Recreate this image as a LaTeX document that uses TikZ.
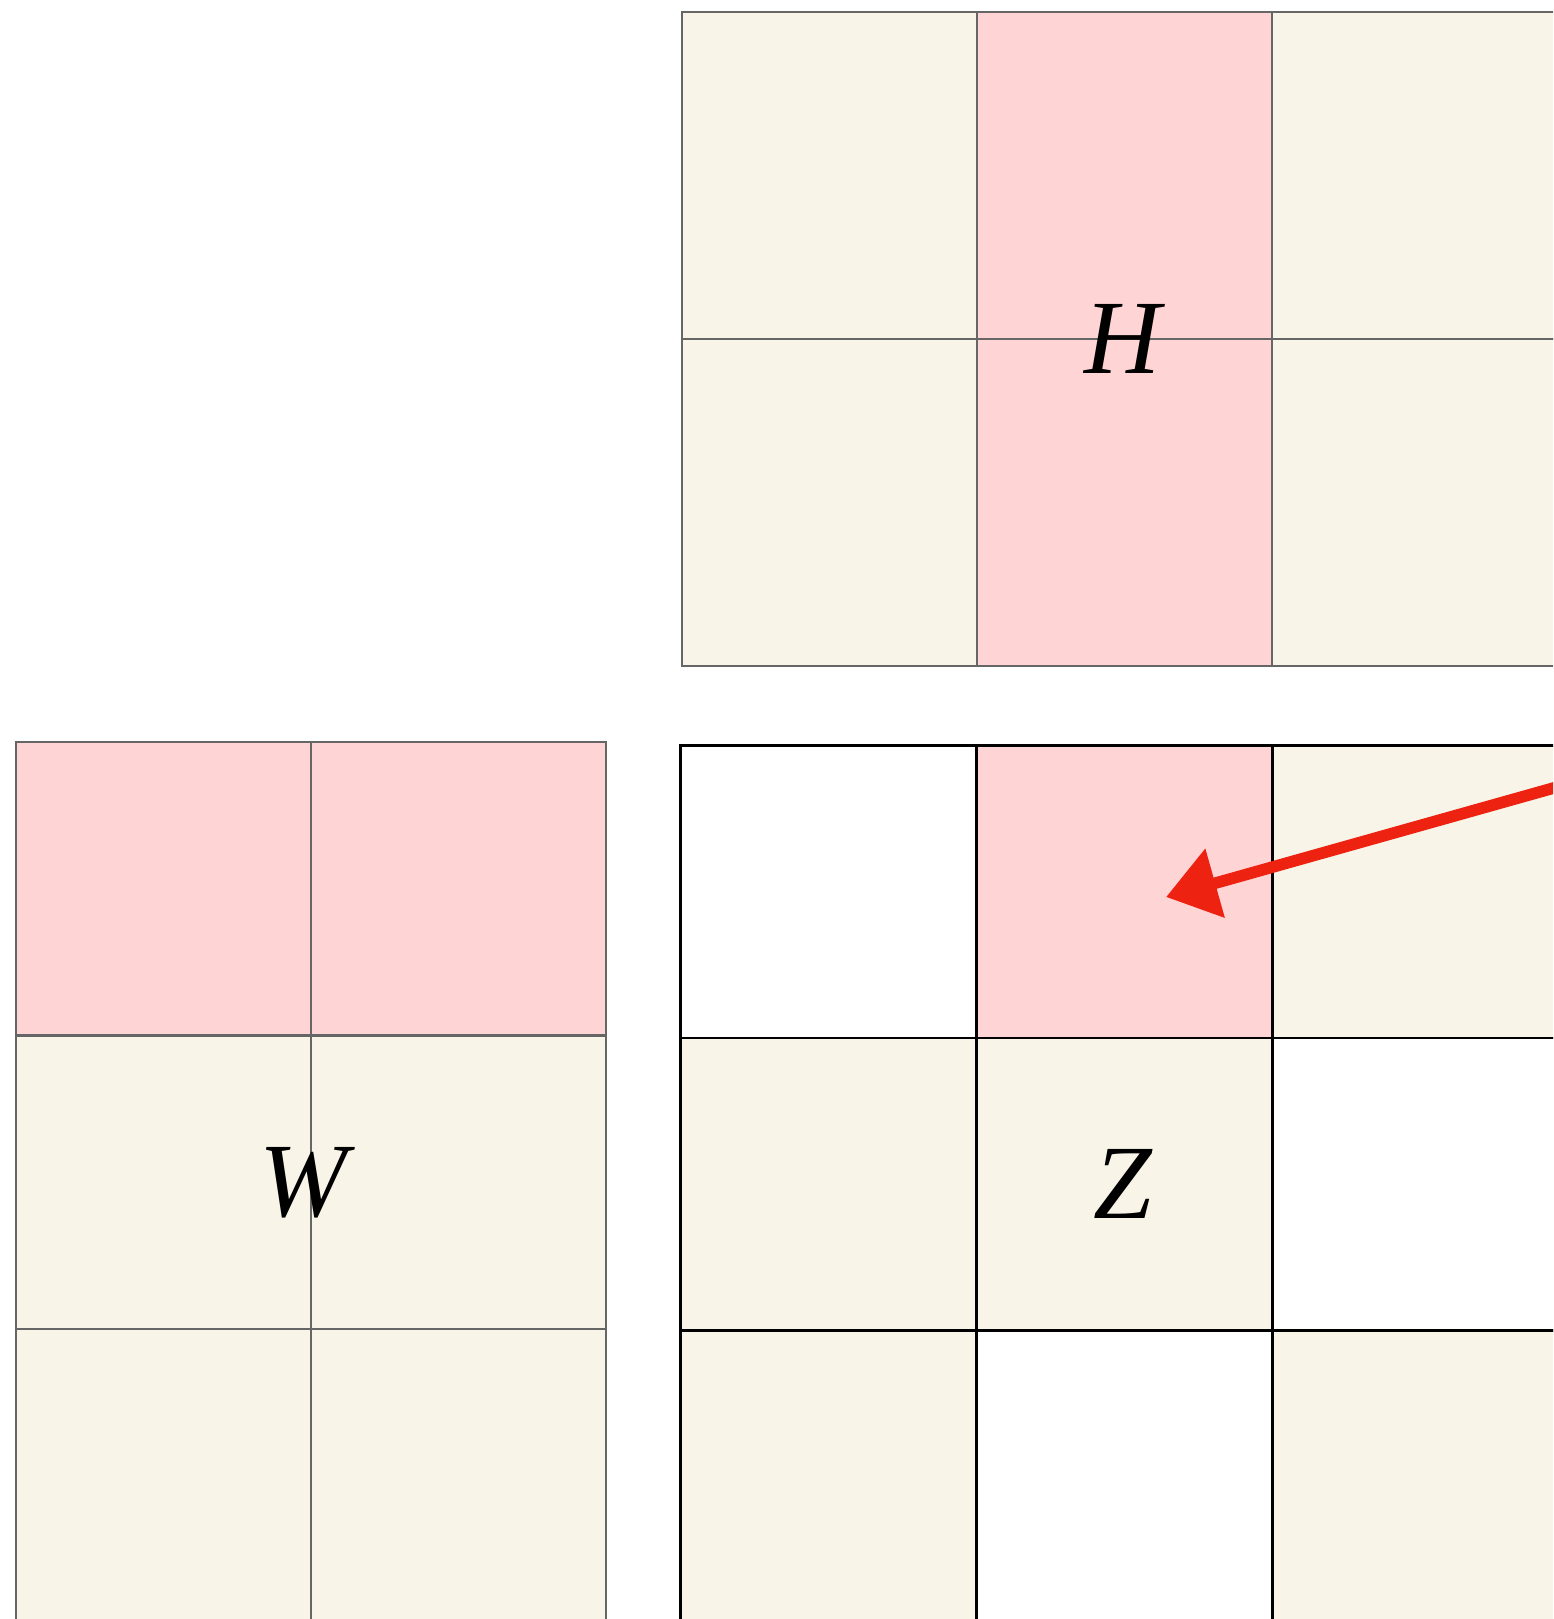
\documentclass[tikz,border=0pt]{standalone}
\usepackage{fontspec}
\setmainfont{Liberation Serif}
\usetikzlibrary{arrows.meta}
\definecolor{creamcell}{HTML}{F8F5E8}
\definecolor{pinkcell}{HTML}{FED4D5}
\definecolor{gridgray}{HTML}{666666}
\definecolor{markred}{HTML}{EE2211}

\begin{document}
\begin{tikzpicture}[x=0.01cm, y=-0.01cm,
    graycell/.style={draw=gridgray, line width=0.7pt},
    blackcell/.style={draw=black, line width=0.65pt},
    letter/.style={font=\fontsize{30}{36}\selectfont\itshape, inner sep=0pt},
    markarrow/.style={-{Triangle[length=14.5pt, width=19.6pt]}, markred, line width=3.3pt, line cap=round}]

    \useasboundingbox (0,0) rectangle (1553,1619);
    \clip (0,0) rectangle (1553,1619);

    % === H grid (top) ===
    \foreach \c/\col in {0/creamcell, 1/pinkcell, 2/creamcell} {
        \foreach \r in {0,1} {
            \draw[graycell, fill=\col] ({682+295*\c},{12+327*\r}) rectangle ++(295,327);
        }
    }
    \node[letter] (H) at (1123,339) {H};

    % === W grid (left) ===
    \foreach \r/\col in {0/pinkcell, 1/creamcell, 2/creamcell} {
        \foreach \c in {0,1} {
            \draw[graycell, fill=\col] ({16+295*\c},{742+293.5*\r}) rectangle ++(295,293.5);
        }
    }
    \node[letter] (W) at (303,1183) {W};

    % === Z grid (result) ===
    \foreach \c/\r/\col in {0/0/white, 1/0/pinkcell, 2/0/creamcell,
                            0/1/creamcell, 1/1/creamcell, 2/1/white,
                            0/2/creamcell, 1/2/white, 2/2/creamcell} {
        \draw[blackcell, fill=\col] ({680.5+296*\c},{745.5+292.5*\r}) rectangle ++(296,292.5);
    }
    \node[letter] (Z) at (1123,1184) {Z};

    % === Red arrow into the pink cell ===
    \coordinate (markfrom) at (1575,782);
    \coordinate (markto) at (1166,897);
    \draw[markarrow] (markfrom) -- (markto);

\end{tikzpicture}
\end{document}
